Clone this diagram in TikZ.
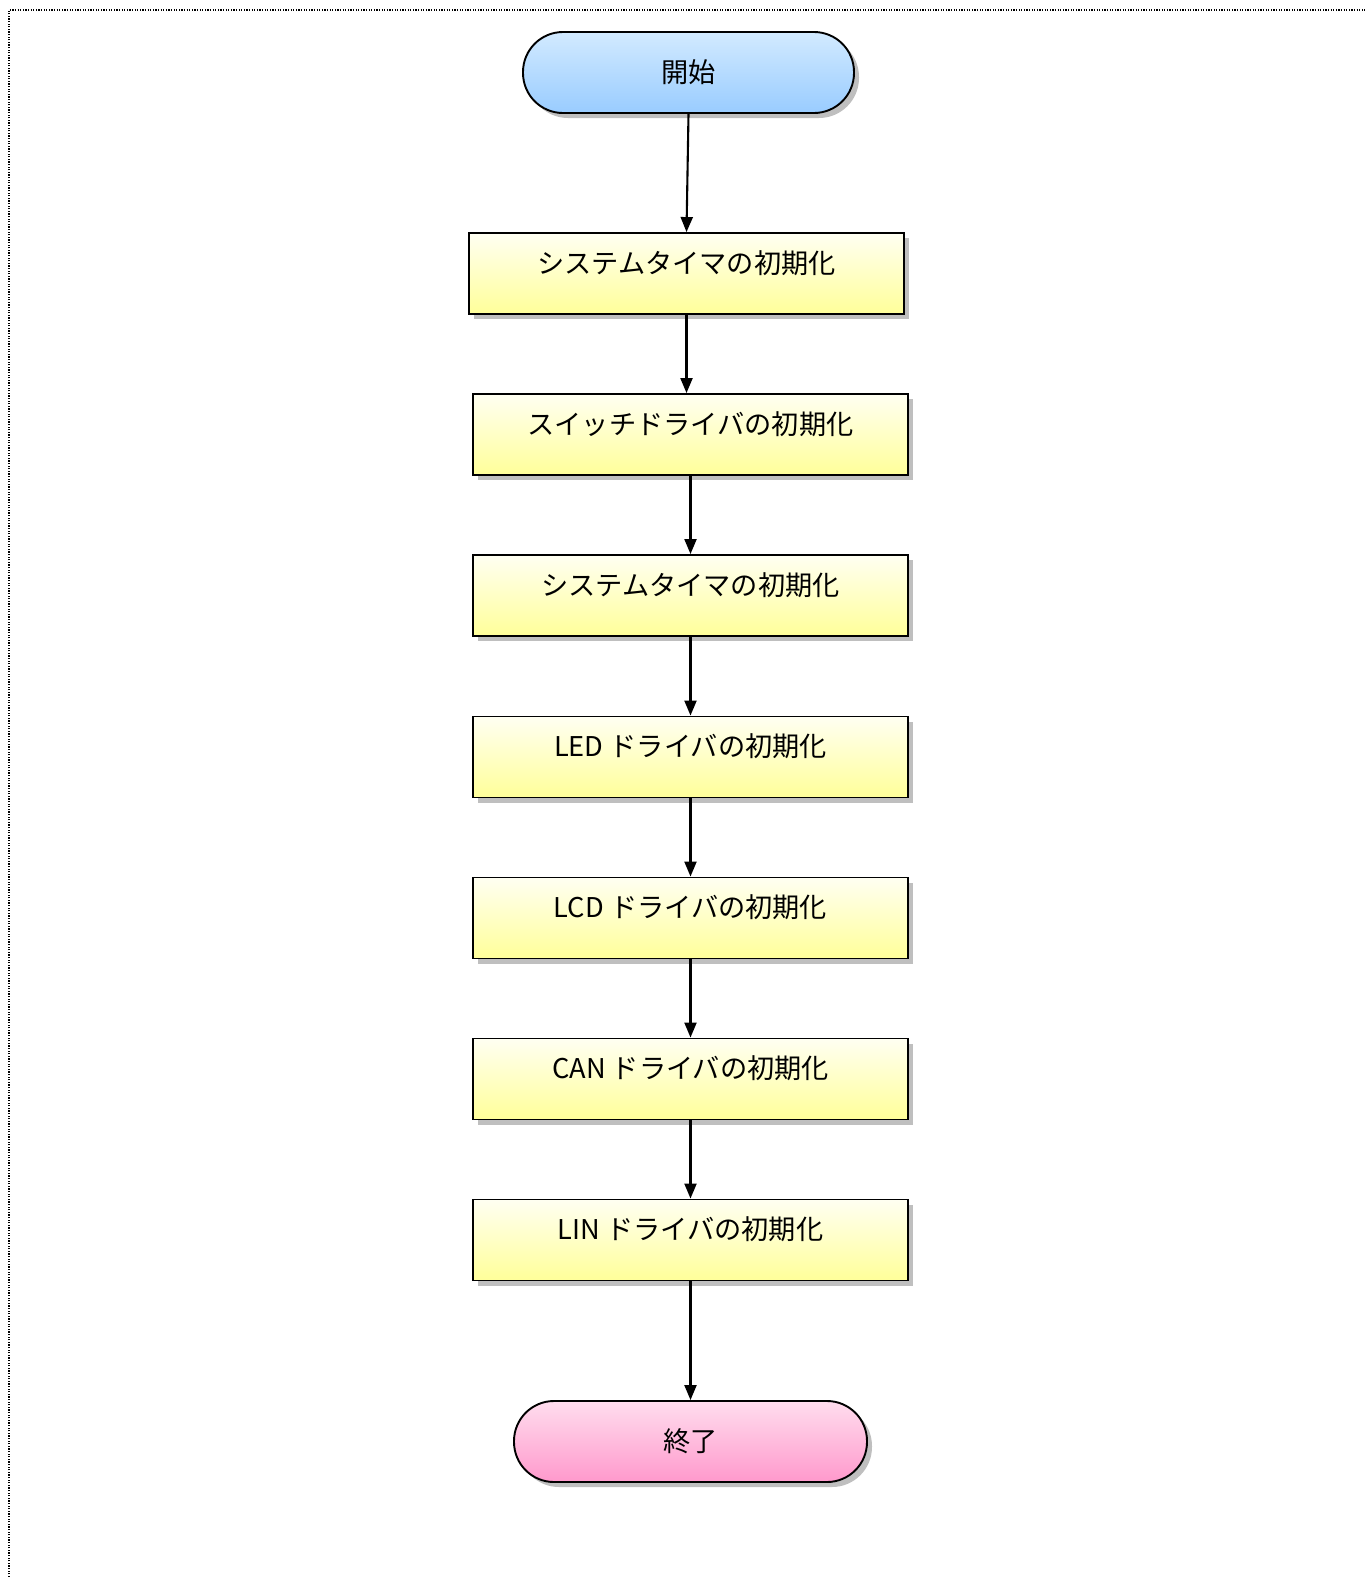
\documentclass[tikz,border=0pt]{standalone}
\usepackage{fontspec}
\usetikzlibrary{arrows.meta,shadows}
\setmainfont{Noto Sans CJK JP}
\definecolor{bluetop}{HTML}{D2EAFF}
\definecolor{bluebot}{HTML}{99CCFF}
\definecolor{yeltop}{HTML}{FFFFF2}
\definecolor{yelbot}{HTML}{FFFF99}
\definecolor{pinktop}{HTML}{FFDDEE}
\definecolor{pinkbot}{HTML}{FF99CC}
\tikzset{
  shad/.style={drop shadow={shadow xshift=5pt,shadow yshift=-5pt,fill=black!25,opacity=1}},
  procbox/.style={draw=black, line width=1.9pt, minimum width=435pt, minimum height=81pt,
    inner sep=0pt, top color=yeltop, bottom color=yelbot, shad,
    font=\fontsize{27.2}{31}\selectfont, text height=20pt, text depth=21pt},
  termbox/.style={draw=black, line width=1.9pt, minimum height=81pt, rounded corners=40pt,
    inner sep=0pt, shad, font=\fontsize{27.2}{31}\selectfont},
  flow/.style={line width=2.1pt, -{Triangle[length=15pt,width=12pt]}},
  framestyle/.style={line width=1.3pt, dash pattern=on 1.3pt off 1.3pt}
}
\begin{document}
\begin{tikzpicture}[x=1pt,y=-1pt]
\useasboundingbox (0,0) rectangle (1365,1577);
\draw[framestyle] (9,1577) -- (9,10) -- (1365,10);
\node[termbox, minimum width=331pt, top color=bluetop, bottom color=bluebot] (start) at (688.5,72.5) {開始};
\node[procbox] (b1) at (686.5,273.5) {システムタイマの初期化};
\node[procbox] (b2) at (690.5,434.5) {スイッチドライバの初期化};
\node[procbox] (b3) at (690.5,595.5) {システムタイマの初期化};
\node[procbox] (b4) at (690.5,757) {LED ドライバの初期化};
\node[procbox] (b5) at (690.5,918) {LCD ドライバの初期化};
\node[procbox] (b6) at (690.5,1079) {CAN ドライバの初期化};
\node[procbox] (b7) at (690.5,1240) {LIN ドライバの初期化};
\node[termbox, minimum width=353pt, top color=pinktop, bottom color=pinkbot] (end) at (690.5,1441.5) {終了};
\draw[flow] (start.south) -- (b1.north);
\draw[flow] (b1.south) -- (b1.south |- b2.north);
\draw[flow] (b2.south) -- (b3.north);
\draw[flow] (b3.south) -- (b4.north);
\draw[flow] (b4.south) -- (b5.north);
\draw[flow] (b5.south) -- (b6.north);
\draw[flow] (b6.south) -- (b7.north);
\draw[flow] (b7.south) -- (end.north);
\end{tikzpicture}
\end{document}
